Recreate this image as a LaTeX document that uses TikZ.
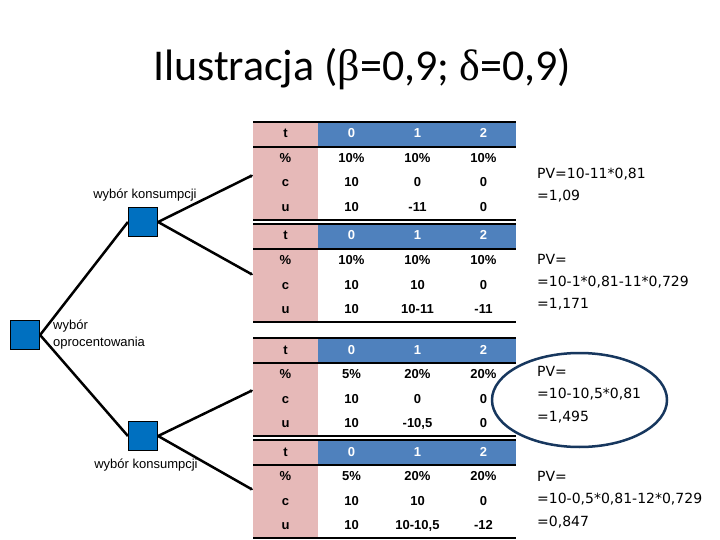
\documentclass[tikz,border=0pt]{standalone}
\usepackage{fontspec}
\setmainfont{Liberation Sans}
\newfontfamily\titlefont{Carlito}
\newfontfamily\greekfont{Liberation Serif}
\newfontfamily\pvfont{DejaVu Sans}
\usetikzlibrary{arrows.meta,shapes.geometric}
\definecolor{pinkc}{RGB}{230,185,184}
\definecolor{hdrblue}{RGB}{79,129,189}
\definecolor{sqblue}{RGB}{0,112,192}
\definecolor{navy}{RGB}{23,55,94}
\tikzset{
  tabline/.style={line width=2.5pt,black},
  celltext/.style={font=\bfseries\fontsize{13}{15}\selectfont,inner sep=0pt,text height=9.5pt,text depth=2.5pt},
  lab/.style={celltext},
  hdr/.style={celltext,text=white},
  cell/.style={celltext},
  sq/.style={draw=black,line width=1.2pt,fill=sqblue,minimum size=29pt,inner sep=0pt},
  conn/.style={line width=2.5pt,black},
  arr/.style={line width=2.5pt,black,-{Latex[length=2.5pt,width=4pt]}},
  treelab/.style={font=\fontsize{13}{17}\selectfont,inner sep=0pt},
  pv/.style={font=\pvfont\fontsize{14}{22.3}\selectfont,align=left,anchor=west,inner sep=0pt},
}
\newcommand\mytable[5]{%
  \fill[pinkc] (253,#2) rectangle (318,#2+98);
  \fill[hdrblue] (318,#2) rectangle (516,#2+25);
  \foreach \yy in {0,25,98} \draw[tabline] (253,#2+\yy) -- (516,#2+\yy);
  \node[lab] (#1t) at (285.5,#2+12.5) {t};
  \node[lab] (#1p) at (285.5,#2+37.2) {\%};
  \node[lab] (#1c) at (285.5,#2+61.5) {c};
  \node[lab] (#1u) at (285.5,#2+85.8) {u};
  \foreach \v [count=\i] in {0,1,2} \node[hdr] (#1h\i) at (285.5+66*\i,#2+12.5) {\v};
  \foreach \v [count=\i] in {#3} \node[cell] (#1p\i) at (285.5+66*\i,#2+37.2) {\v};
  \foreach \v [count=\i] in {#4} \node[cell] (#1c\i) at (285.5+66*\i,#2+61.5) {\v};
  \foreach \v [count=\i] in {#5} \node[cell] (#1u\i) at (285.5+66*\i,#2+85.8) {\v};
}
\begin{document}
\begin{tikzpicture}[x=1pt,y=-1pt]
\useasboundingbox[fill=white] (0,0) rectangle (720,540);

\node[anchor=base] (title) at (362,81) {\titlefont\fontsize{44}{52}\selectfont Ilustracja ({\greekfont β}=0,9; {\greekfont δ}=0,9)};

\mytable{A}{122}{10\%,10\%,10\%}{10,0,0}{10,-11,0}
\mytable{B}{224}{10\%,10\%,10\%}{10,10,0}{10,10-11,-11}
\mytable{C}{338}{5\%,20\%,20\%}{10,0,0}{10,{-10,5},0}
\mytable{D}{440}{5\%,20\%,20\%}{10,10,0}{10,{10-10,5},-12}

\coordinate (inA) at (253,175);
\coordinate (inB) at (253,275);
\coordinate (inC) at (253,390);
\coordinate (inD) at (253,490);

\node[sq] (root) at (25,335) {};
\node[sq] (up) at (143,222) {};
\node[sq] (dn) at (143,436) {};

\draw[conn] (root.east) -- (up.west);
\draw[conn] (root.east) -- (dn.west);
\draw[arr] (up.east) -- (inA);
\draw[arr] (up.east) -- (inB);
\draw[arr] (dn.east) -- (inC);
\draw[arr] (dn.east) -- (inD);

\node[treelab] (l1) at (145,195) {wybór konsumpcji};
\node[treelab] (l2) at (146,465) {wybór konsumpcji};
\node[treelab,align=left,anchor=west] (l3) at (53,334.5) {wybór\\oprocentowania};

\node[pv] (pv1) at (537,185) {PV=10-11*0,81\\=1,09};
\node[pv] (pv2) at (537,282.3) {PV=\\=10-1*0,81-11*0,729\\=1,171};
\node[pv] (pv3) at (537,394.7) {PV=\\=10-10,5*0,81\\=1,495};
\node[pv] (pv4) at (537,499.7) {PV=\\=10-0,5*0,81-12*0,729\\=0,847};

\node[draw=navy,line width=2.5pt,ellipse,minimum width=175pt,minimum height=94pt,inner sep=0pt] (ell) at (579.5,400) {};
\end{tikzpicture}
\end{document}
